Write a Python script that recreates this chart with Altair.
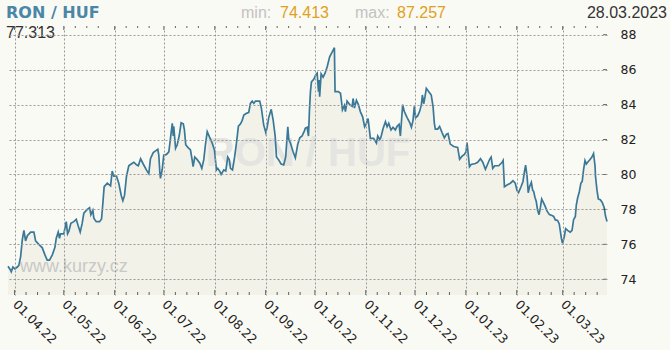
import altair as alt
import pandas as pd

# ---------------- data ----------------
start_date = "2022-03-28"
# observation time as days after start_date
day = [
    0, 1.4, 2.0, 3.0, 4.2, 5.7, 6.6, 7.7, 8.7, 9.7,
    10.7, 11.8, 13.8, 15.8, 16.8, 18.8, 20.9, 22.5, 23.9, 25.3,
    27.0, 28.6, 29.4, 30.6, 31.4, 32.0, 34.0, 35.5, 36.3, 37.1,
    38.3, 40.1, 41.6, 42.8, 44.0, 45.2, 46.2, 48.3, 49.7, 50.5,
    51.7, 52.3, 53.8, 55.8, 57.0, 57.8, 58.6, 60.5, 62.5, 63.5,
    64.5, 66.1, 67.5, 69.0, 70.0, 71.0, 72.2, 73.6, 75.1, 76.7,
    78.3, 79.4, 80.8, 82.4, 84.4, 85.8, 86.8, 88.5, 89.9, 91.3,
    91.9, 92.5, 92.9, 94.0, 94.9, 96.6, 98.0, 99.0, 100.1, 100.7,
    101.0, 102.1, 103.1, 104.3, 105.5, 106.8, 107.5, 108.3, 109.6, 111.2,
    112.2, 112.8, 113.8, 115.3, 116.9, 118.1, 119.3, 120.3, 121.4, 123.0,
    124.4, 125.8, 127.0, 127.8, 128.9, 129.9, 131.5, 132.7, 133.9, 134.8,
    135.6, 136.8, 138.0, 139.2, 140.4, 141.7, 142.7, 143.7, 145.3, 146.7,
    147.7, 148.8, 149.8, 150.8, 153.4, 154.4, 155.8, 157.1, 157.9, 158.9,
    160.4, 161.6, 162.8, 163.6, 165.0, 166.4, 168.0, 169.2, 170.5, 171.1,
    172.1, 173.7, 175.1, 176.5, 177.8, 179.2, 180.6, 181.2, 182.3, 183.1,
    183.7, 184.3, 184.9, 186.3, 187.5, 188.4, 189.2, 189.6, 189.9, 190.8,
    192.0, 193.2, 194.5, 196.0, 197.5, 198.9, 199.1, 199.3, 201.3, 202.6,
    203.2, 203.8, 205.0, 205.6, 206.6, 208.2, 209.7, 210.3, 211.1, 212.3,
    213.5, 214.7, 216.1, 217.3, 218.4, 219.4, 220.0, 220.8, 222.8, 224.5,
    225.3, 226.5, 227.3, 228.6, 230.0, 231.0, 232.0, 233.4, 234.6, 236.0,
    237.1, 238.3, 239.1, 240.5, 241.5, 243.2, 244.8, 245.8, 246.8, 247.6,
    248.4, 249.6, 250.8, 251.9, 252.5, 253.3, 254.1, 254.9, 256.3, 257.9,
    259.0, 259.8, 260.4, 261.8, 263.0, 264.5, 265.9, 267.1, 268.1, 269.5,
    271.6, 274.0, 275.2, 276.7, 278.1, 279.1, 279.7, 280.4, 281.2, 282.2,
    284.8, 286.2, 287.9, 289.3, 290.9, 292.3, 293.5, 294.4, 295.4, 296.6,
    299.0, 301.1, 301.7, 302.1, 302.5, 304.1, 306.1, 307.7, 309.1, 310.2,
    311.1, 312.6, 313.8, 314.6, 315.4, 316.3, 317.0, 317.8, 318.9, 319.7,
    320.3, 321.1, 321.9, 322.7, 323.6, 324.4, 325.2, 326.0, 327.2, 328.5,
    329.9, 331.5, 332.5, 333.5, 334.9, 335.9, 336.5, 337.2, 337.9, 339.0,
    339.8, 341.0, 342.6, 343.7, 344.6, 345.7, 346.3, 347.1, 348.1, 349.1,
    349.9, 350.7, 351.6, 352.4, 353.2, 354.4, 355.8, 356.8, 357.7, 358.0,
    358.9, 359.7, 360.9, 362.1, 363.3, 364.1, 365.0,
]
rate = [
    74.75, 74.55, 74.43, 74.70, 74.60, 74.70, 74.80, 75.30, 76.25, 76.80,
    76.20, 76.50, 76.70, 76.70, 76.20, 76.00, 75.80, 75.40, 75.10, 75.10,
    75.40, 75.83, 76.35, 76.70, 76.35, 76.60, 76.60, 77.30, 76.60, 76.75,
    77.20, 77.30, 77.43, 77.05, 76.70, 77.20, 77.78, 78.00, 78.10, 77.70,
    77.95, 77.50, 77.30, 77.30, 77.45, 78.35, 79.30, 79.50, 79.35, 80.20,
    79.90, 79.90, 79.50, 78.80, 78.50, 78.80, 79.90, 80.50, 80.60, 80.70,
    80.55, 80.50, 80.90, 80.60, 80.25, 80.05, 80.90, 81.25, 81.35, 81.44,
    81.10, 80.15, 79.78, 80.30, 81.10, 81.15, 81.30, 82.07, 82.93, 82.20,
    82.75, 81.50, 81.70, 82.20, 82.96, 82.90, 82.55, 81.70, 81.55, 81.40,
    80.83, 80.45, 81.00, 80.85, 80.65, 80.35, 80.85, 81.70, 82.45, 82.10,
    81.80, 81.40, 80.26, 80.35, 80.20, 80.00, 80.26, 80.20, 81.00, 80.85,
    80.35, 80.26, 80.95, 81.78, 82.77, 82.90, 83.10, 83.40, 83.50, 83.55,
    84.07, 84.20, 84.07, 84.20, 84.20, 83.80, 82.84, 82.40, 82.70, 83.27,
    83.73, 83.10, 82.20, 81.00, 80.83, 80.60, 80.55, 81.00, 82.73, 82.00,
    81.80, 81.30, 80.95, 81.70, 82.10, 82.20, 82.50, 82.65, 82.70, 82.20,
    83.70, 84.74, 85.30, 85.45, 85.70, 85.80, 84.74, 85.40, 84.45, 85.76,
    85.57, 85.80, 86.17, 86.74, 87.00, 87.26, 85.90, 84.74, 84.74, 84.65,
    84.20, 83.70, 83.95, 83.60, 84.20, 84.00, 83.90, 84.35, 83.80, 84.25,
    84.00, 83.60, 83.30, 82.73, 82.93, 83.20, 82.73, 82.07, 82.07, 81.80,
    82.20, 82.00, 82.15, 82.65, 83.02, 82.73, 82.93, 82.55, 82.70, 82.55,
    82.76, 82.87, 82.20, 84.00, 83.60, 83.25, 82.97, 82.70, 83.10, 83.90,
    83.25, 83.35, 83.60, 84.00, 84.55, 84.05, 84.45, 84.93, 84.75, 84.55,
    83.90, 82.93, 82.60, 82.60, 82.75, 82.40, 82.10, 82.30, 82.35, 81.74,
    81.60, 81.55, 80.87, 81.05, 81.15, 81.30, 81.82, 81.20, 80.44, 80.57,
    80.63, 80.70, 80.90, 80.70, 80.30, 80.60, 80.87, 81.00, 80.35, 80.50,
    80.50, 80.70, 80.80, 80.07, 79.30, 79.40, 79.50, 79.64, 79.50, 79.07,
    78.96, 79.30, 79.60, 80.10, 80.54, 79.90, 78.95, 79.30, 79.55, 79.10,
    79.03, 78.70, 78.45, 77.97, 77.70, 78.10, 78.60, 78.45, 78.20, 77.90,
    77.70, 77.65, 77.60, 77.40, 77.37, 77.17, 76.80, 76.35, 76.06, 76.45,
    76.90, 76.80, 76.70, 76.80, 77.40, 77.60, 78.25, 78.65, 79.00, 79.50,
    79.60, 80.26, 80.80, 80.60, 80.70, 80.83, 81.00, 81.20, 80.50, 79.90,
    79.10, 78.60, 78.55, 78.40, 78.10, 77.62, 77.31,
]
month_ticks = [(2022, 4), (2022, 5), (2022, 6), (2022, 7), (2022, 8), (2022, 9),
               (2022, 10), (2022, 11), (2022, 12), (2023, 1), (2023, 2), (2023, 3)]
minor_tick_days = [8, 15, 22]
y_ticks = [74, 76, 78, 80, 82, 84, 86, 88]
y_domain = [73.1, 88.5]
x_domain = [(2022, 3, 28), (2023, 3, 28)]

title_text = "RON / HUF"
min_label, min_value = "min:", "74.413"
max_label, max_value = "max:", "87.257"
last_date = "28.03.2023"
last_value = "77.313"
watermark = "RON / HUF"
site = "www.kurzy.cz"

# ---------------- styling ----------------
W, H = 599, 269
BG = "#fafaf5"
AREA = "#f2f2e9"
LINE = "#3a7898"
GRID = "#9a9a9a"
TXT = "#222222"
FONT = "DejaVu Sans"
HFONT = "Liberation Sans"

t0 = pd.Timestamp(start_date)
df = pd.DataFrame({"date": t0 + pd.to_timedelta(day, unit="D"), "rate": rate})

month_dt = [alt.DateTime(year=y, month=m, date=1) for y, m in month_ticks]
major_df = pd.DataFrame({"date": [pd.Timestamp(year=y, month=m, day=1) for y, m in month_ticks]})
minor_df = pd.DataFrame({"date": [pd.Timestamp(year=y, month=m, day=dd)
                                  for y, m in month_ticks for dd in minor_tick_days]})
ytick_df = pd.DataFrame({"rate": y_ticks})

xscale = alt.Scale(domain=[alt.DateTime(year=a, month=b, date=c) for a, b, c in x_domain])
yscale = alt.Scale(domain=y_domain, nice=False, zero=False)

x_axis = alt.Axis(values=month_dt, format="%d.%m.%y", labelAngle=45, labelAlign="left",
                  labelBaseline="middle", labelPadding=7, ticks=False, domain=False,
                  grid=True, gridDash=[2, 2], gridColor=GRID, gridWidth=1,
                  labelFont=FONT, labelFontSize=12.5, labelColor=TXT, title=None,
                  labelOverlap=False, labelFlush=False, zindex=1)
y_axis = alt.Axis(values=y_ticks, orient="right", format="d", ticks=False, domain=False,
                  grid=True, gridDash=[2, 2], gridColor=GRID, gridWidth=1,
                  labelFont=FONT, labelFontSize=12.5, labelColor=TXT, labelPadding=13,
                  labelOverlap=False, labelFlush=False, title=None, zindex=1)

area = alt.Chart(df).mark_area(color=AREA).encode(
    x=alt.X("date:T", scale=xscale, axis=x_axis),
    y=alt.Y("rate:Q", scale=yscale, axis=y_axis),
    y2=alt.datum(y_domain[0]),
)

def label(text, x, y, size, color, font=HFONT, weight="normal", align="left"):
    return alt.Chart(pd.DataFrame({"t": [text]})).mark_text(
        font=font, fontSize=size, fontWeight=weight, color=color, align=align,
        baseline="alphabetic"
    ).encode(text="t:N", x=alt.value(x), y=alt.value(y))

wm = label(watermark, 300, 140, 40, "#e4e4e0", weight="bold", align="center")
site_txt = label(site, 12, 246, 18, "#c9c9c6")

line = alt.Chart(df).mark_line(color=LINE, strokeWidth=1.7).encode(
    x=alt.X("date:T"),
    y=alt.Y("rate:Q"),
)

hdr = [
    label(title_text, -2, -8, 16, "#4a86a6", font=FONT, weight="bold"),
    label(min_label, 233, -8, 16, "#c2c2c2"),
    label(min_value, 272, -8, 16, "#e0a020"),
    label(max_label, 347, -8, 16, "#c2c2c2"),
    label(max_value, 389, -8, 16, "#e0a020"),
    label(last_date, 659, -8, 16, "#333333", align="right"),
    label(last_value, -2, 12, 16, "#333333"),
]

def xticks(data, y, size):
    return alt.Chart(data).mark_tick(orient="vertical", size=size, thickness=1, color=TXT).encode(
        x=alt.X("date:T"), y=alt.value(y))

ticks = [
    xticks(major_df, H - 2.5, 5),
    xticks(minor_df, H - 1.5, 3),
    xticks(major_df, 2, 4),
    xticks(minor_df, 1, 2),
    alt.Chart(ytick_df).mark_tick(orient="horizontal", size=4, thickness=1, color=TXT).encode(
        y=alt.Y("rate:Q"), x=alt.value(W - 2)),
]

chart = alt.layer(area, wm, site_txt, line, *ticks, *hdr).properties(
    width=W, height=H, background=BG,
    padding={"left": 8, "top": 26, "right": 63, "bottom": 55},
    autosize=alt.AutoSizeParams(type="none"),
).configure_view(stroke=None).configure_axis(labelOverlap=False, tickCount=20)

chart.save("out.html", embed_options={"renderer": "svg", "actions": False})
